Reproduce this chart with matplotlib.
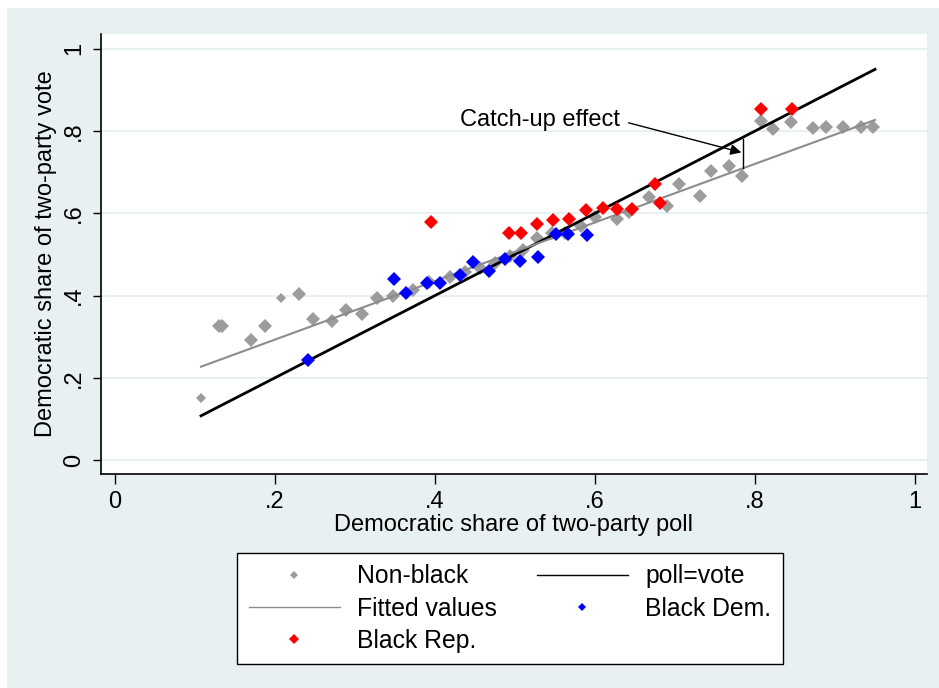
import matplotlib
matplotlib.use("Agg")
import matplotlib.pyplot as plt
from matplotlib.lines import Line2D
from matplotlib.patches import Rectangle

plt.rcParams['font.family'] = ['Liberation Sans', 'DejaVu Sans']

# non-black districts (grey diamonds)
nb_x = [0.130, 0.134, 0.170, 0.187, 0.230, 0.247, 0.271, 0.289, 0.309, 0.3275,
        0.348, 0.372, 0.392, 0.419, 0.437, 0.456, 0.475, 0.494, 0.510, 0.527,
        0.546, 0.563, 0.582, 0.600, 0.627, 0.642, 0.667, 0.690, 0.705, 0.731,
        0.7445, 0.767, 0.784, 0.808, 0.822, 0.8445, 0.872, 0.889, 0.910, 0.932, 0.948]
nb_y = [0.325, 0.325, 0.293, 0.325, 0.404, 0.344, 0.337, 0.366, 0.355, 0.394,
        0.400, 0.414, 0.432, 0.446, 0.458, 0.468, 0.480, 0.497, 0.510, 0.540,
        0.552, 0.553, 0.568, 0.592, 0.585, 0.603, 0.640, 0.618, 0.672, 0.641,
        0.703, 0.716, 0.690, 0.825, 0.804, 0.823, 0.808, 0.809, 0.809, 0.809, 0.809]
# two smaller grey markers
nb_small_x = [0.1075, 0.208]
nb_small_y = [0.150, 0.393]

# black democrats
bd_x = [0.241, 0.349, 0.364, 0.390, 0.406, 0.431, 0.448, 0.468, 0.487, 0.506,
        0.529, 0.551, 0.566, 0.590]
bd_y = [0.244, 0.441, 0.406, 0.431, 0.431, 0.449, 0.481, 0.459, 0.488, 0.484,
        0.493, 0.549, 0.549, 0.547]

# black republicans
br_x = [0.395, 0.493, 0.507, 0.527, 0.547, 0.568, 0.589, 0.6095, 0.628, 0.646,
        0.675, 0.681, 0.807, 0.8465]
br_y = [0.580, 0.553, 0.553, 0.575, 0.583, 0.585, 0.607, 0.612, 0.610, 0.610,
        0.671, 0.624, 0.854, 0.854]

# lines
line_x = [0.1075, 0.95]
fit_y = [0.227, 0.827]

tick_vals = [0, 0.2, 0.4, 0.6, 0.8, 1.0]
tick_labels = ['0', '.2', '.4', '.6', '.8', '1']

bg = '#e9f0f2'
grey = '#9c9c9c'
fs = 17

fig = plt.figure(figsize=(9.39, 6.88), dpi=100, facecolor='white')
fig.patches.append(Rectangle((7 / 939, 0), 1, 1 - 8 / 688, transform=fig.transFigure,
                             facecolor=bg, edgecolor='none', zorder=-10))

ax = fig.add_axes([101 / 939, 1 - 474 / 688, 826 / 939, 440 / 688])
ax.set_facecolor('white')

ax.plot(nb_x, nb_y, 'D', color=grey, ms=7.2, mew=0, zorder=2)
ax.plot(nb_small_x, nb_small_y, 'D', color=grey, ms=5, mew=0, zorder=2)
ax.plot(line_x, line_x, color='black', lw=2.0, zorder=3)
ax.plot(line_x, fit_y, color='#8c8c8c', lw=1.5, zorder=3)
ax.plot(bd_x, bd_y, 'D', color='#0000ff', ms=7.2, mew=0, zorder=4)
ax.plot(br_x, br_y, 'D', color='#ff0000', ms=7.2, mew=0, zorder=5)

# catch-up annotation
ax.text(0.431, 0.828, 'Catch-up effect', fontsize=fs, ha='left', va='center')
ax.annotate('', xy=(0.783, 0.748), xytext=(0.642, 0.820),
            arrowprops=dict(arrowstyle='-|>', color='black', lw=1.0,
                            mutation_scale=16, shrinkA=0, shrinkB=0))
ax.plot([0.785, 0.785], [0.711, 0.780], color='black', lw=1.0, zorder=6)

ax.set_xlim(-0.0175, 1.015)
ax.set_ylim(-0.034, 1.036)
ax.set_xticks(tick_vals)
ax.set_xticklabels(tick_labels)
ax.set_yticks(tick_vals)
ax.set_yticklabels(tick_labels, rotation=90, va='center')
ax.tick_params(axis='x', length=7.5, width=1, pad=5, labelsize=fs)
ax.tick_params(axis='y', length=5.5, width=1, pad=6, labelsize=fs)
ax.grid(axis='y', color=bg, lw=1.5)
ax.set_axisbelow(True)
for s in ['top', 'right']:
    ax.spines[s].set_visible(False)
ax.spines['left'].set_linewidth(1.2)
ax.spines['bottom'].set_linewidth(1.2)

ax.set_xlabel('Democratic share of two-party poll', fontsize=fs)
ax.set_ylabel('Democratic share of two-party vote', fontsize=fs)
ax.xaxis.set_label_coords(0.5, -0.092)
ax.yaxis.set_label_coords(-0.053, 0.5)

handles = [
    Line2D([], [], marker='D', ls='none', color=grey, ms=4, mew=0),
    Line2D([], [], color='#8c8c8c', lw=1.0),
    Line2D([], [], marker='D', ls='none', color='#ff0000', ms=4.8, mew=0),
    Line2D([], [], color='black', lw=1.0),
    Line2D([], [], marker='D', ls='none', color='#0000ff', ms=4, mew=0),
]
labels = ['Non-black', 'Fitted values', 'Black Rep.', 'poll=vote', 'Black Dem.']
leg = fig.legend(handles, labels, loc='center', bbox_to_anchor=(510 / 939, 1 - 608.5 / 688),
                 ncol=2, fontsize=17.8, frameon=True, fancybox=False, framealpha=1,
                 edgecolor='black', handlelength=3.7, handletextpad=0.7,
                 columnspacing=1.6, labelspacing=0.33, borderpad=0.45)
leg.get_frame().set_linewidth(1.0)

fig.savefig('out.png', dpi=100, facecolor=fig.get_facecolor())
